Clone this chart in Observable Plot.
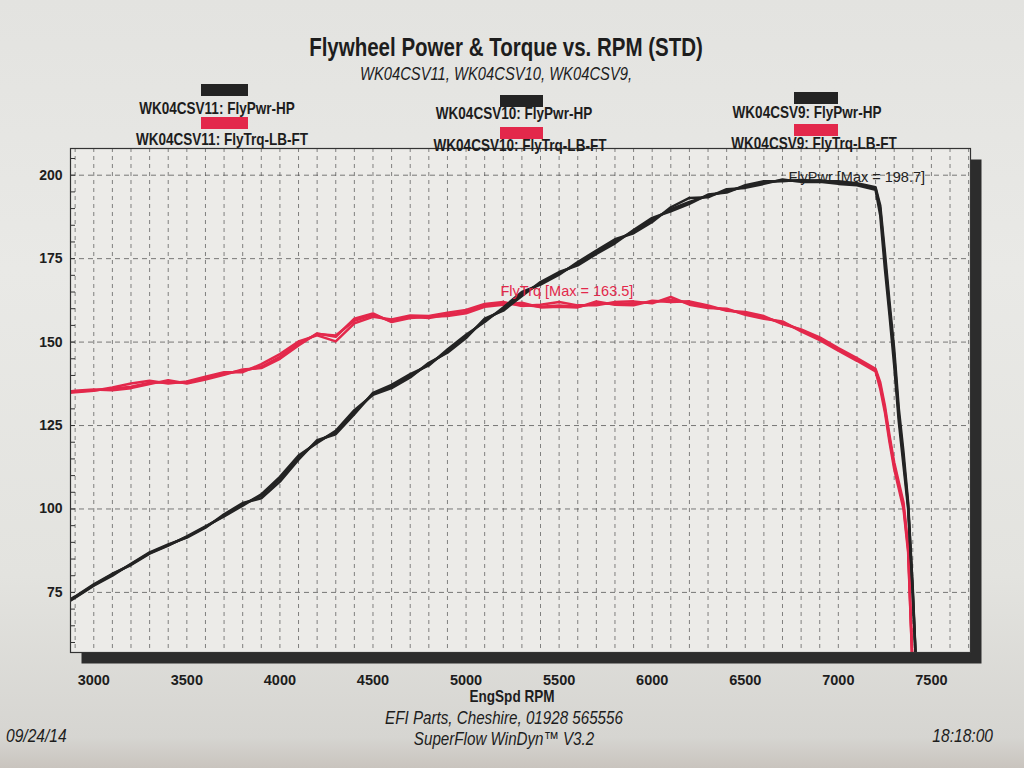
<!DOCTYPE html>
<html>
<head>
<meta charset="utf-8">
<script src="https://cdn.jsdelivr.net/npm/d3@7"></script>
<script src="https://cdn.jsdelivr.net/npm/@observablehq/plot@0.6"></script>
<style>
  body { margin: 0; }
  #page {
    position: relative; width: 1024px; height: 768px; overflow: hidden;
    background: linear-gradient(to bottom, #e3e3e0 0%, #e9e9e6 35%, #e3e3df 75%, #d6d5d1 96%, #c9c4be 100%);
    font-family: "Liberation Sans", Arial, sans-serif;
    color: #1d1d1d;
  }
  .t { position: absolute; white-space: nowrap; line-height: 1; transform: scaleX(0.82); transform-origin: 0 50%; }
  .t.c { transform: translateX(-50%) scaleX(0.82); transform-origin: 50% 50%; }
  .t.r { transform-origin: 100% 50%; }
  .b { font-weight: bold; }
  .i { font-style: italic; }
  .sw { position: absolute; height: 12px; }
  #chart { position: absolute; left: 0; top: 0; }
</style>
</head>
<body>
<div id="page">
  <div id="chart"></div>
  <div class="t c b" style="left:506px; top:35px; font-size:25px;">Flywheel Power &amp; Torque vs. RPM (STD)</div>
  <div class="t c i" style="left:496px; top:65px; font-size:18px;">WK04CSV11, WK04CSV10, WK04CSV9,</div>
  <div id="legend"></div>
  <div class="t c b" style="left:512px; top:688px; font-size:16.5px;">EngSpd RPM</div>
  <div class="t c i" style="left:504px; top:709px; font-size:18.5px;">EFI Parts, Cheshire, 01928 565556</div>
  <div class="t c i" style="left:504px; top:730px; font-size:18.5px;">SuperFlow WinDyn™ V3.2</div>
  <div class="t i" style="left:6px; top:726px; font-size:19px;">09/24/14</div>
  <div class="t i r" style="right:31px; top:726px; font-size:19px;">18:18:00</div>
</div>
<script>
// ---------------- data ----------------
const runs = ["WK04CSV11", "WK04CSV10", "WK04CSV9"];

const rpm = [2870, 2900, 3000, 3100, 3200, 3300, 3400, 3500, 3600, 3700, 3800, 3900,
  4000, 4100, 4200, 4300, 4400, 4500, 4600, 4700, 4800, 4900, 5000, 5100, 5200, 5300,
  5400, 5500, 5600, 5700, 5800, 5900, 6000, 6100, 6200, 6300, 6400, 6500, 6600, 6700,
  6800, 6900, 7000, 7100, 7200, 7225, 7250, 7275, 7300, 7325, 7350, 7375, 7400, 7420];

// Flywheel power (HP)
const pwrCSV11 = [72.6, 73.6, 77.2, 80.4, 83.4, 86.8, 89.2, 91.6, 94.6, 98.0, 101.4, 104.0,
  109.0, 115.4, 120.2, 123.0, 129.0, 134.4, 136.6, 139.8, 143.4, 147.2, 151.6, 156.6, 159.8, 164.4,
  167.6, 170.6, 173.4, 176.8, 180.2, 183.2, 186.6, 189.8, 192.0, 193.8, 195.2, 196.6, 197.8, 198.4,
  198.3, 198.5, 197.8, 197.4, 196.0, 190.0, 175.0, 160.0, 146.0, 128.0, 115.0, 101.0, 75.0, 50.0];
const pwrCSV10 = [72.4, 73.4, 77.0, 80.0, 83.6, 87.0, 89.4, 91.4, 94.4, 98.4, 101.8, 103.2,
  108.2, 114.8, 120.6, 122.4, 128.4, 134.8, 137.2, 140.4, 143.0, 147.8, 152.2, 156.0, 160.4, 165.0,
  167.2, 170.2, 174.0, 177.4, 180.8, 182.6, 186.0, 190.4, 193.2, 193.4, 195.8, 196.2, 197.4, 198.7,
  198.0, 198.0, 197.4, 197.0, 195.6, 188.0, 172.0, 158.0, 143.0, 126.0, 113.0, 100.0, 74.0, 50.0];
const pwrCSV9 = [72.8, 73.8, 77.4, 80.6, 83.2, 86.6, 89.0, 91.8, 94.8, 97.8, 101.0, 104.4,
  109.6, 116.0, 119.8, 123.4, 129.6, 134.2, 136.2, 139.4, 143.8, 146.8, 151.2, 157.0, 159.4, 163.8,
  168.0, 171.0, 173.0, 176.4, 179.6, 183.6, 187.2, 189.2, 191.4, 194.2, 194.8, 197.0, 198.2, 198.2,
  198.6, 198.2, 198.2, 197.6, 196.4, 191.0, 177.0, 162.0, 148.0, 130.0, 117.0, 102.0, 76.0, 50.0];

// Flywheel torque (LB-FT)
const trqCSV11 = [135.0, 135.2, 135.6, 136.0, 136.6, 137.8, 138.0, 137.8, 139.0, 140.6, 141.4, 142.6,
  145.6, 149.6, 152.4, 152.0, 156.4, 158.2, 156.2, 157.6, 157.2, 158.2, 159.0, 161.0, 161.6, 161.2,
  160.6, 161.0, 160.6, 161.6, 161.4, 161.6, 162.0, 162.6, 161.8, 160.6, 159.6, 158.6, 157.4, 155.8,
  153.6, 151.0, 147.8, 144.8, 141.6, 137.0, 130.0, 121.0, 113.0, 107.0, 101.0, 88.0, 50.0, null];
const trqCSV10 = [134.8, 135.0, 135.4, 136.4, 137.6, 138.4, 137.6, 138.2, 139.6, 141.0, 141.0, 143.4,
  146.4, 150.2, 152.0, 150.2, 155.6, 157.6, 156.8, 158.0, 157.8, 158.8, 159.6, 161.4, 162.0, 160.8,
  161.2, 162.0, 161.0, 161.0, 162.0, 162.2, 161.6, 163.5, 161.2, 160.2, 160.0, 158.2, 157.0, 156.2,
  153.2, 150.6, 147.4, 144.4, 141.2, 136.0, 129.0, 120.0, 112.0, 106.0, 100.0, 87.0, 50.0, null];
const trqCSV9 = [135.2, 135.4, 135.8, 135.6, 136.2, 137.4, 138.6, 137.6, 138.8, 140.2, 141.8, 142.2,
  145.0, 149.0, 152.6, 151.6, 157.0, 158.6, 156.0, 157.2, 157.6, 157.8, 158.6, 160.6, 161.2, 161.8,
  160.4, 160.6, 160.4, 162.2, 161.2, 161.0, 162.4, 162.0, 162.2, 161.0, 159.4, 159.0, 157.8, 155.4,
  153.8, 151.4, 148.2, 145.2, 142.0, 138.0, 131.0, 122.0, 114.0, 108.0, 102.0, 89.0, 52.0, null];

const xTicks = [3000, 3500, 4000, 4500, 5000, 5500, 6000, 6500, 7000, 7500];
const yTicks = [75, 100, 125, 150, 175, 200];

const noteText = ["FlyPwr [Max = 198.7]", "FlyTrq [Max = 163.5]"];
const noteRpm = [6732, 5185];
const noteVal = [199.3, 165.2];

// ---------------- build ----------------
const BLACK = "#232323", RED = "#e3284b";
const pwrSeries = [pwrCSV11, pwrCSV10, pwrCSV9];
const trqSeries = [trqCSV11, trqCSV10, trqCSV9];
const rows = [];
runs.forEach((run, r) => rpm.forEach((x, i) =>
  rows.push({run, rpm: x, hp: pwrSeries[r][i], tq: trqSeries[r][i]})));
const notes = noteText.map((text, i) => ({text, rpm: noteRpm[i], v: noteVal[i], fill: i === 0 ? BLACK : RED}));

const gridRpm = d3.range(2900, 7701, 100);
const minorY = d3.range(60, 206, 5);
const FONT = '"Liberation Sans", Arial, sans-serif';

const chart = Plot.plot({
  width: 1024, height: 768,
  marginLeft: 70, marginRight: 54, marginTop: 148, marginBottom: 116,
  style: {background: "transparent", fontFamily: FONT, color: "#1d1d1d", overflow: "visible"},
  x: {domain: [2875, 7710]},
  y: {domain: [57, 208]},
  marks: [
    Plot.frame({fill: "#2c2c2c", dx: 11, dy: 11}),
    Plot.frame({fill: "#ecebe8"}),
    Plot.gridX(gridRpm, {stroke: "#4a4a4a", strokeOpacity: 0.75, strokeWidth: 0.9, strokeDasharray: "4,4"}),
    Plot.gridY(yTicks, {stroke: "#4a4a4a", strokeOpacity: 0.8, strokeWidth: 0.9, strokeDasharray: "5,4"}),
    Plot.axisY(minorY, {tickSize: -5, tickFormat: () => "", label: null, stroke: "#333"}),
    Plot.axisY(yTicks, {tickSize: 0, tickPadding: 8, label: null, fontSize: 14, fontWeight: "bold", fill: "#1d1d1d"}),
    Plot.axisX(xTicks, {tickSize: 0, tickPadding: 22, label: null, fontSize: 14.5, fontWeight: "bold", fill: "#1d1d1d", tickFormat: d => String(d)}),
    Plot.line(rows, {x: "rpm", y: "tq", z: "run", stroke: RED, strokeWidth: 2.5, clip: true}),
    Plot.line(rows, {x: "rpm", y: "hp", z: "run", stroke: BLACK, strokeWidth: 2.5, clip: true}),
    Plot.frame({stroke: "#333", strokeWidth: 1.2}),
    Plot.text(notes, {x: "rpm", y: "v", text: "text", fill: "fill", textAnchor: "start", fontSize: 14.5, fontFamily: FONT})
  ]
});
document.getElementById("chart").appendChild(chart);

// legend
const legendGroups = [
  {sw: [201, 84, 47], red: 117, t1: [217, 100], t2: [222, 131]},
  {sw: [500, 95, 43], red: 127, t1: [514, 105], t2: [520, 137]},
  {sw: [794, 92, 44], red: 124, t1: [807, 104], t2: [814, 135]}
];
const legend = document.getElementById("legend");
runs.forEach((run, r) => {
  const g = legendGroups[r];
  legend.insertAdjacentHTML("beforeend",
    `<div class="sw" style="left:${g.sw[0]}px;top:${g.sw[1]}px;width:${g.sw[2]}px;background:${BLACK}"></div>` +
    `<div class="sw" style="left:${g.sw[0]}px;top:${g.red}px;width:${g.sw[2]}px;background:${RED}"></div>` +
    `<div class="t c b" style="left:${g.t1[0]}px;top:${g.t1[1]}px;font-size:16.5px">${run}: FlyPwr-HP</div>` +
    `<div class="t c b" style="left:${g.t2[0]}px;top:${g.t2[1]}px;font-size:16.5px">${run}: FlyTrq-LB-FT</div>`);
});
</script>
</body>
</html>
